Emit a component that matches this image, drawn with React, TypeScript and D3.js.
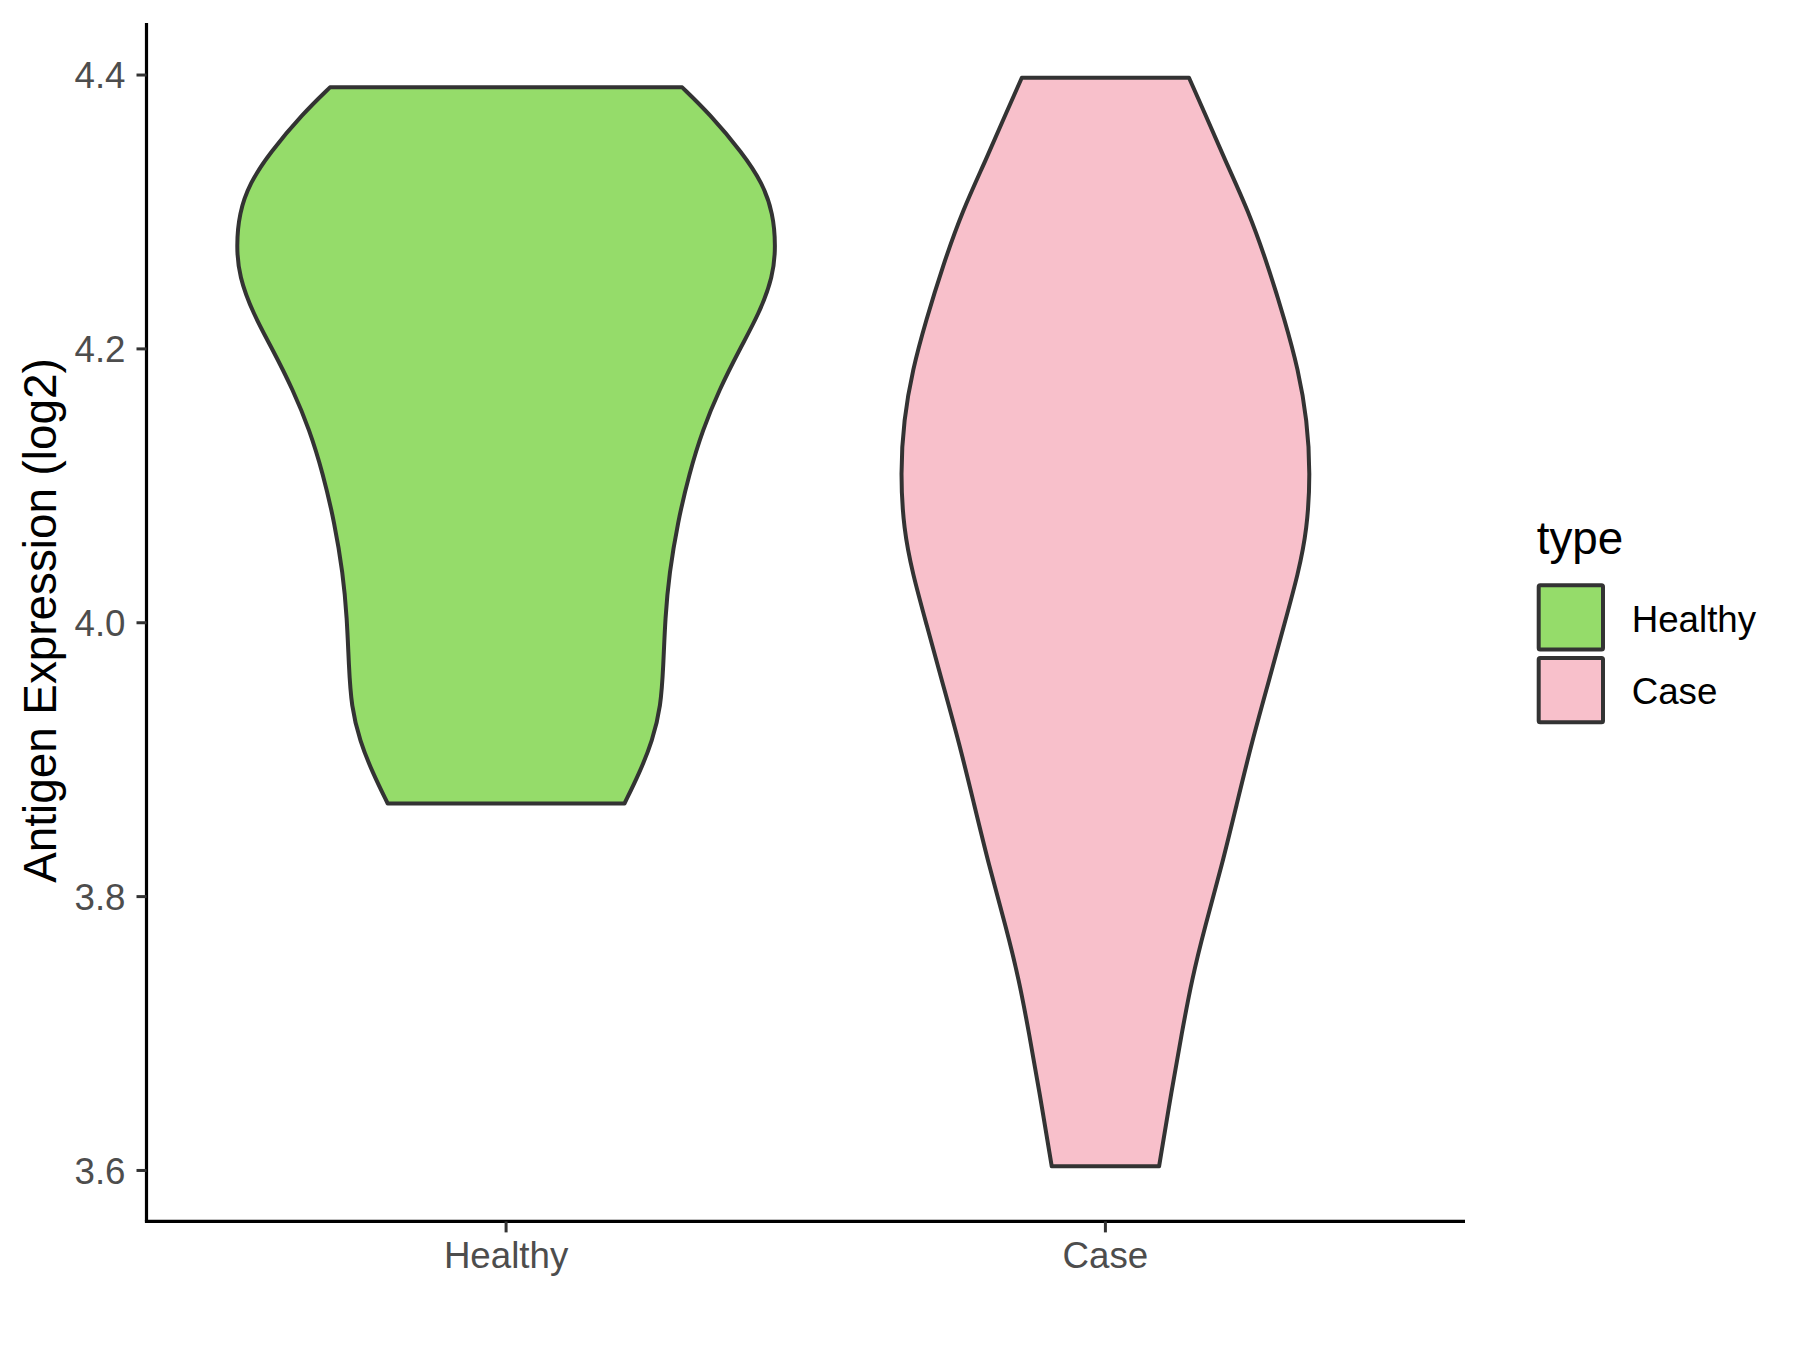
import React from "react";
import * as d3 from "d3";

const categories = ["Healthy", "Case"];
const fills = ["#95DC6A", "#F8C0CB"];
const yTicks = [3.6, 3.8, 4.0, 4.2, 4.4];

// Violin profiles: expression value and relative density (1 = widest)
const healthyValues = [4.391, 4.372, 4.343, 4.321, 4.299, 4.275, 4.253, 4.226, 4.199, 4.17, 4.141, 4.109, 4.073, 4.036, 4.004, 3.968, 3.939, 3.914, 3.89, 3.868];
const healthyDensity = [0.653, 0.753, 0.877, 0.951, 0.99, 1.0, 0.99, 0.939, 0.864, 0.79, 0.729, 0.679, 0.636, 0.605, 0.59, 0.583, 0.574, 0.543, 0.494, 0.439];
const caseValues = [4.398, 4.372, 4.338, 4.301, 4.26, 4.221, 4.185, 4.148, 4.109, 4.068, 4.036, 4.0, 3.956, 3.912, 3.87, 3.822, 3.778, 3.739, 3.7, 3.659, 3.603];
const caseDensity = [0.31, 0.369, 0.443, 0.53, 0.604, 0.665, 0.715, 0.748, 0.76, 0.748, 0.715, 0.665, 0.604, 0.542, 0.49, 0.431, 0.369, 0.32, 0.283, 0.246, 0.199];

const groups = [
  { name: categories[0], values: healthyValues, density: healthyDensity, fill: fills[0] },
  { name: categories[1], values: caseValues, density: caseDensity, fill: fills[1] },
];

const W = 1800;
const H = 1350;
const left = 146.5;
const right = 1465;
const top = 23;
const bottom = 1221.4;
const font = "'Liberation Sans', Arial, sans-serif";

export default function App() {
  const x = d3.scalePoint<string>().domain(categories).range([left, right]).padding(0.6);
  const step = x.step();
  const y = d3.scaleLinear().domain([3.5628, 4.438]).range([bottom, top]);
  const w = d3.scaleLinear().domain([0, 1]).range([0, 0.45 * step]);

  return (
    <div style={{ position: "absolute", left: 0, top: 0 }}>
      <svg width={W} height={H} style={{ display: "block", background: "#fff" }}>
        <rect x={0} y={0} width={W} height={H} fill="#fff" />
        {groups.map((g) => {
          const cx = x(g.name) as number;
          const pts = g.values.map((v, i) => ({ v, d: g.density[i] }));
          const area = d3
            .area<{ v: number; d: number }>()
            .y((p) => y(p.v))
            .x0((p) => cx - w(p.d))
            .x1((p) => cx + w(p.d))
            .curve(d3.curveBasis);
          return (
            <path key={g.name} d={area(pts) || ""} fill={g.fill} stroke="#333333" strokeWidth={4} strokeLinejoin="round" />
          );
        })}
        {/* axes */}
        <line x1={left} x2={left} y1={top} y2={bottom} stroke="#000" strokeWidth={3.2} />
        <line x1={left - 1.6} x2={right} y1={bottom} y2={bottom} stroke="#000" strokeWidth={3.2} />
        {yTicks.map((t) => (
          <g key={t}>
            <line x1={left - 10} x2={left} y1={y(t)} y2={y(t)} stroke="#333333" strokeWidth={3} />
            <text x={left - 21} y={y(t)} dy="0.36em" textAnchor="end" fontFamily={font} fontSize={36.7} fill="#4D4D4D">
              {t.toFixed(1)}
            </text>
          </g>
        ))}
        {categories.map((c) => (
          <g key={c}>
            <line x1={x(c)} x2={x(c)} y1={bottom} y2={bottom + 11} stroke="#333333" strokeWidth={3} />
            <text x={x(c)} y={1268} textAnchor="middle" fontFamily={font} fontSize={36.7} fill="#4D4D4D">
              {c}
            </text>
          </g>
        ))}
        <text
          transform={`translate(56, 620.5) rotate(-90)`}
          textAnchor="middle"
          fontFamily={font}
          fontSize={45.8}
          fill="#000"
        >
          Antigen Expression (log2)
        </text>
        {/* legend */}
        <text x={1536.7} y={554} fontFamily={font} fontSize={45.8} fill="#000">
          type
        </text>
        {groups.map((g, i) => (
          <g key={g.name}>
            <rect x={1538.7} y={585.3 + i * 72.7} width={64.3} height={64.3} fill={g.fill} stroke="#333333" strokeWidth={4} rx={1.5} />
            <text x={1631.7} y={631.5 + i * 72.7} fontFamily={font} fontSize={36.7} fill="#000">
              {g.name}
            </text>
          </g>
        ))}
      </svg>
    </div>
  );
}
